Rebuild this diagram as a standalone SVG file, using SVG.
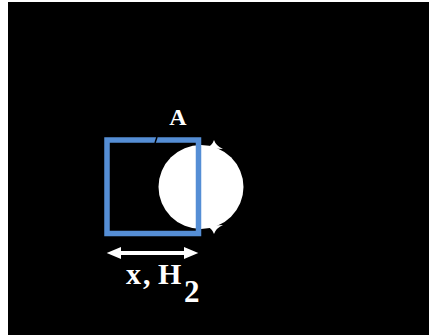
<svg xmlns="http://www.w3.org/2000/svg" width="429" height="335" viewBox="0 0 429 335">
  <style>
    .lbl { font-family: "Liberation Serif", "Times New Roman", serif; font-weight: bold; fill: #ffffff; }
    .arrow { fill: #ffffff; }
  </style>
  <rect x="0" y="0" width="429" height="335" fill="#ffffff"/>
  <rect x="8" y="2" width="421" height="333" fill="#000000"/>
  <g id="sphere">
    <ellipse cx="201" cy="187" rx="42.5" ry="42" fill="#ffffff"/>
    <path d="M206,148 Q212,146 214,140 Q216,146 223,149 Z" fill="#ffffff"/>
    <path d="M206,226 Q212,228 214,234 Q216,228 223,225 Z" fill="#ffffff"/>
  </g>
  <g id="box">
    <rect x="107" y="140" width="91.5" height="93.5" fill="none" stroke="#558ED5" stroke-width="5.5"/>
    <line x1="157" y1="137" x2="155" y2="143" stroke="#000000" stroke-width="1.5"/>
  </g>
  <g id="connectors">
    <path class="arrow" d="M106.7,253 L121,247 L121,251 L184,251 L184,247 L198.3,253 L184,259 L184,255 L121,255 L121,259 Z"/>
  </g>
  <g id="label-A">
    <text class="lbl" x="178" y="124.5" font-size="24" text-anchor="middle">A</text>
  </g>
  <g id="label-x">
    <text class="lbl" y="284" font-size="30"><tspan x="126">x</tspan><tspan x="143">,</tspan><tspan x="158">H</tspan><tspan x="184" y="301.5" font-size="31">2</tspan></text>
  </g>
</svg>
